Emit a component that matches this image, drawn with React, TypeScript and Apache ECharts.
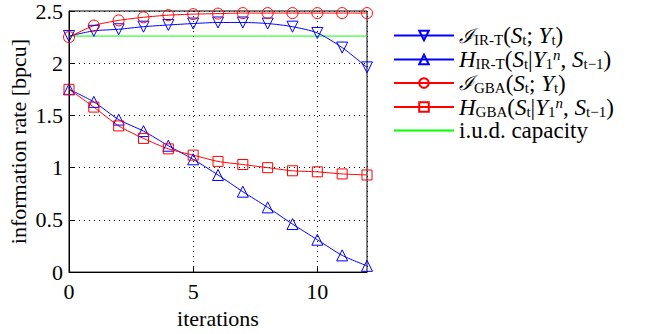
import React, { useEffect, useRef } from "react";
import * as echarts from "echarts";

const iterations = [0, 1, 2, 3, 4, 5, 6, 7, 8, 9, 10, 11, 12];
const iIRT = [2.26, 2.31, 2.325, 2.35, 2.366, 2.38, 2.39, 2.39, 2.38, 2.35, 2.29, 2.15, 1.96];
const hIRT = [1.75, 1.63, 1.46, 1.35, 1.21, 1.08, 0.93, 0.77, 0.62, 0.46, 0.31, 0.16, 0.06];
const iGBA = [2.25, 2.36, 2.41, 2.44, 2.46, 2.47, 2.475, 2.48, 2.48, 2.48, 2.48, 2.48, 2.48];
const hGBA = [1.75, 1.58, 1.40, 1.28, 1.18, 1.12, 1.06, 1.03, 1.00, 0.97, 0.96, 0.94, 0.93];
const iudCapacity = [2.26, 2.26, 2.26, 2.26, 2.26, 2.26, 2.26, 2.26, 2.26, 2.26, 2.26, 2.26, 2.26];
const yTicks = [0, 0.5, 1, 1.5, 2, 2.5];
const xTicks = [0, 5, 10];

const FONT = "'Liberation Serif', 'Times New Roman', serif";

const legendLabels: Record<string, string> = {
  iIRT: "{cal|ℐ}{sub|IR-T}{n|(}{it|S}{sub|t}{n|; }{it|Y}{sub|t}{n|)}",
  hIRT: "{it|H}{sub|IR-T}{n|(}{it|S}{sub|t}{n||}{it|Y}{sub|1}{sup|n}{n|, }{it|S}{sub|t−1}{n|)}",
  iGBA: "{cal|ℐ}{sub|GBA}{n|(}{it|S}{sub|t}{n|; }{it|Y}{sub|t}{n|)}",
  hGBA: "{it|H}{sub|GBA}{n|(}{it|S}{sub|t}{n||}{it|Y}{sub|1}{sup|n}{n|, }{it|S}{sub|t−1}{n|)}",
  iud: "{n|i.u.d. capacity}",
};

const pair = (ys: number[]) => iterations.map((x, i) => [x, ys[i]]);

export default function App() {
  const ref = useRef<HTMLDivElement>(null);
  useEffect(() => {
    if (!ref.current) return;
    const chart = echarts.init(ref.current, undefined, { renderer: "svg" });
    const BLUE = "#0000ff";
    const RED = "#ff0000";
    const GREEN = "#00ff00";
    const mk = (name: string, data: number[], color: string, symbol: string, size: number, rotate = 0) => ({
      name,
      type: "line",
      data: pair(data),
      symbol,
      symbolSize: size,
      symbolRotate: rotate,
      smooth: 0.25,
      lineStyle: { color, width: 1 },
      itemStyle: { color: "rgba(0,0,0,0)", borderColor: color, borderWidth: 1 },
      emphasis: { disabled: true },
      z: 3,
    });
    const txt = { fontFamily: FONT, fontSize: 22, color: "#000" };
    chart.setOption({
      animation: false,
      backgroundColor: "#ffffff",
      textStyle: { fontFamily: FONT },
      grid: {
        left: 69,
        right: 286,
        top: 9,
        bottom: 58,
        show: true,
        borderColor: "#000",
        borderWidth: 1,
        backgroundColor: "transparent",
      },
      xAxis: {
        type: "value",
        min: 0,
        max: 12,
        interval: 5,
        name: "iterations",
        nameLocation: "middle",
        nameGap: 29,
        nameTextStyle: txt,
        axisLine: { lineStyle: { color: "#000", width: 1 } },
        axisTick: { inside: true, length: 5, lineStyle: { color: "#000" } },
        axisLabel: {
          ...txt,
          margin: 8,
          showMaxLabel: false,
          formatter: (v: number) => (xTicks.includes(v) ? String(v) : ""),
        },
        splitLine: { show: true, lineStyle: { color: "#000", type: [1, 4], width: 1 } },
      },
      yAxis: {
        type: "value",
        min: 0,
        max: 2.5,
        interval: 0.5,
        name: "information rate [bpcu]",
        nameLocation: "middle",
        nameGap: 40,
        nameTextStyle: txt,
        axisLine: { lineStyle: { color: "#000", width: 1 } },
        axisTick: { inside: true, length: 5, lineStyle: { color: "#000" } },
        axisLabel: {
          ...txt,
          margin: 6,
          formatter: (v: number) => (yTicks.includes(v) ? String(v) : ""),
        },
        splitLine: { show: true, lineStyle: { color: "#000", type: [1, 4], width: 1 } },
      },
      legend: {
        orient: "vertical",
        left: 388,
        top: 19,
        itemWidth: 60,
        itemHeight: 12,
        itemGap: 0,
        data: [
          { name: "iIRT" },
          { name: "hIRT" },
          { name: "iGBA" },
          { name: "hGBA" },
          { name: "iud", itemStyle: { opacity: 0 } },
        ],
        formatter: (name: string) => legendLabels[name],
        textStyle: {
          ...txt,
          rich: {
            n: { fontFamily: FONT, fontSize: 23, lineHeight: 24, color: "#000" },
            it: { fontFamily: FONT, fontSize: 23, lineHeight: 24, fontStyle: "italic", color: "#000" },
            cal: { fontFamily: "'DejaVu Serif', serif", fontSize: 20, lineHeight: 24, fontStyle: "italic", color: "#000" },
            sub: { fontFamily: FONT, fontSize: 15, lineHeight: 14, verticalAlign: "bottom", color: "#000" },
            sup: { fontFamily: FONT, fontSize: 15, lineHeight: 14, verticalAlign: "top", fontStyle: "italic", color: "#000" },
          },
        },
      },
      series: [
        mk("iIRT", iIRT, BLUE, "triangle", 11, 180),
        mk("hIRT", hIRT, BLUE, "triangle", 11),
        mk("iGBA", iGBA, RED, "circle", 11),
        mk("hGBA", hGBA, RED, "rect", 10),
        {
          name: "iud",
          type: "line",
          data: pair(iudCapacity),
          symbol: "none",
          lineStyle: { color: GREEN, width: 1 },
          itemStyle: { color: GREEN },
          emphasis: { disabled: true },
          z: 2,
        },
      ],
    });
    return () => chart.dispose();
  }, []);
  return <div ref={ref} style={{ width: 653, height: 334, position: "absolute", left: 0, top: 0 }} />;
}
